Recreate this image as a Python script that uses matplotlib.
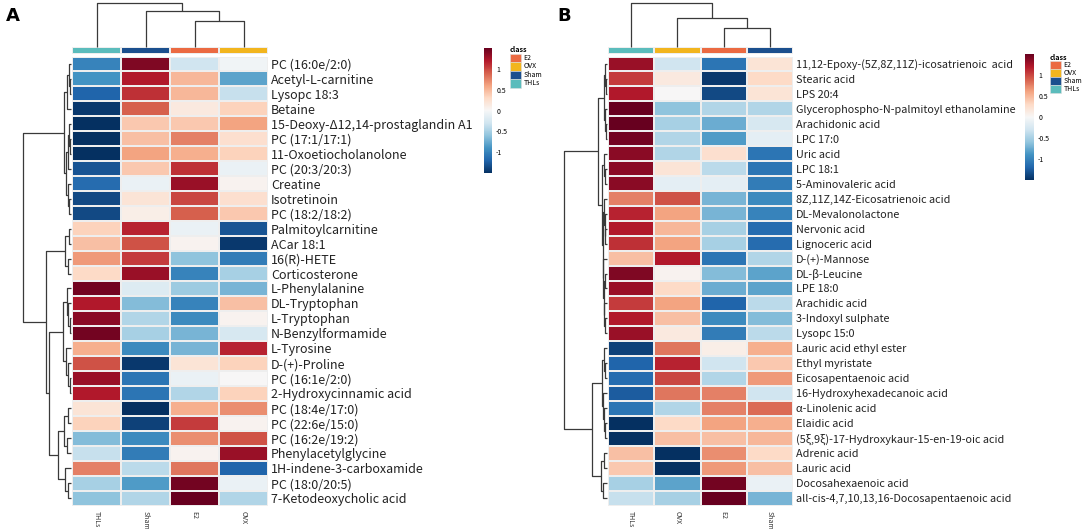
import numpy as np
import matplotlib
matplotlib.use('Agg')
import matplotlib.pyplot as plt
from matplotlib.patches import Rectangle

plt.rcParams['font.family'] = ['Noto Sans CJK SC', 'DejaVu Sans']

W, H = 1084, 529

classes = ['E2', 'OVX', 'Sham', 'THLs']
class_colors = ['#EB6A42', '#F2B51E', '#1B4F8E', '#5BBCBC']

# ---- panel A data ----
a_cols = ['THLs', 'Sham', 'E2', 'OVX']
a_rows = ['PC (16:0e/2:0)', 'Acetyl-L-carnitine', 'Lysopc 18:3', 'Betaine',
          '15-Deoxy-\u039412,14-prostaglandin A1', 'PC (17:1/17:1)',
          '11-Oxoetiocholanolone', 'PC (20:3/20:3)', 'Creatine', 'Isotretinoin',
          'PC (18:2/18:2)', 'Palmitoylcarnitine', 'ACar 18:1', '16(R)-HETE',
          'Corticosterone', 'L-Phenylalanine', 'DL-Tryptophan', 'L-Tryptophan',
          'N-Benzylformamide', 'L-Tyrosine', 'D-(+)-Proline', 'PC (16:1e/2:0)',
          '2-Hydroxycinnamic acid', 'PC (18:4e/17:0)', 'PC (22:6e/15:0)',
          'PC (16:2e/19:2)', 'Phenylacetylglycine', '1H-indene-3-carboxamide',
          'PC (18:0/20:5)', '7-Ketodeoxycholic acid']
a_vals = np.array([
    [-1.00, 1.40, -0.30, -0.05],
    [-0.90, 1.20, 0.50, -0.80],
    [-1.20, 1.10, 0.50, -0.35],
    [-1.45, 0.90, 0.15, 0.35],
    [-1.50, 0.40, 0.40, 0.60],
    [-1.50, 0.45, 0.75, 0.25],
    [-1.50, 0.60, 0.55, 0.35],
    [-1.30, 0.40, 1.10, -0.10],
    [-1.15, -0.10, 1.30, 0.05],
    [-1.35, 0.20, 1.00, 0.25],
    [-1.35, 0.10, 0.90, 0.40],
    [0.35, 1.15, -0.10, -1.30],
    [0.45, 0.95, 0.05, -1.45],
    [0.65, 1.05, -0.60, -1.05],
    [0.30, 1.30, -1.00, -0.50],
    [1.45, -0.20, -0.55, -0.70],
    [1.20, -0.65, -1.00, 0.45],
    [1.35, -0.45, -0.95, 0.05],
    [1.45, -0.50, -0.70, -0.25],
    [0.55, -0.95, -0.70, 1.15],
    [0.95, -1.45, 0.20, 0.35],
    [1.30, -1.10, -0.10, 0.00],
    [1.20, -1.10, -0.45, 0.35],
    [0.20, -1.50, 0.55, 0.70],
    [0.35, -1.40, 1.05, 0.05],
    [-0.65, -0.95, 0.70, 0.95],
    [-0.35, -1.05, 0.05, 1.30],
    [0.75, -0.40, 0.80, -1.20],
    [-0.50, -0.85, 1.45, -0.10],
    [-0.60, -0.45, 1.50, -0.45],
])

# ---- panel B data ----
b_cols = ['THLs', 'OVX', 'E2', 'Sham']
b_rows = ['11,12-Epoxy-(5Z,8Z,11Z)-icosatrienoic  acid', 'Stearic acid', 'LPS 20:4',
          'Glycerophospho-N-palmitoyl ethanolamine', 'Arachidonic acid', 'LPC 17:0',
          'Uric acid', 'LPC 18:1', '5-Aminovaleric acid', '8Z,11Z,14Z-Eicosatrienoic acid',
          'DL-Mevalonolactone', 'Nervonic acid', 'Lignoceric acid', 'D-(+)-Mannose',
          'DL-\u03b2-Leucine', 'LPE 18:0', 'Arachidic acid', '3-Indoxyl sulphate',
          'Lysopc 15:0', 'Lauric acid ethyl ester', 'Ethyl myristate',
          'Eicosapentaenoic acid', '16-Hydroxyhexadecanoic acid', '\u03b1-Linolenic acid',
          'Elaidic acid', '(5\u03be,9\u03be)-17-Hydroxykaur-15-en-19-oic acid', 'Adrenic acid',
          'Lauric acid', 'Docosahexaenoic acid', 'all-cis-4,7,10,13,16-Docosapentaenoic acid']
b_vals = np.array([
    [1.30, -0.30, -1.10, 0.20],
    [1.05, 0.15, -1.45, 0.30],
    [1.20, 0.00, -1.35, 0.20],
    [1.50, -0.60, -0.45, -0.45],
    [1.50, -0.50, -0.75, -0.25],
    [1.45, -0.45, -0.85, -0.15],
    [1.35, -0.45, 0.25, -1.10],
    [1.35, 0.20, -0.40, -1.10],
    [1.35, -0.15, -0.15, -1.05],
    [0.75, 0.95, -0.70, -0.95],
    [1.15, 0.60, -0.70, -1.00],
    [1.20, 0.50, -0.50, -1.15],
    [1.10, 0.60, -0.50, -1.15],
    [0.45, 1.20, -1.10, -0.45],
    [1.40, 0.05, -0.65, -0.80],
    [1.30, 0.30, -0.75, -0.80],
    [1.05, 0.60, -1.20, -0.40],
    [1.20, 0.45, -0.95, -0.65],
    [1.30, 0.15, -1.05, -0.40],
    [-1.40, 0.80, 0.10, 0.55],
    [-1.20, 1.15, -0.30, 0.40],
    [-1.15, 1.00, -0.45, 0.65],
    [-1.25, 0.80, 0.75, -0.30],
    [-1.10, -0.45, 0.75, 0.85],
    [-1.50, 0.30, 0.60, 0.55],
    [-1.50, 0.45, 0.45, 0.50],
    [0.45, -1.50, 0.70, 0.30],
    [0.40, -1.50, 0.65, 0.45],
    [-0.50, -0.80, 1.45, -0.10],
    [-0.35, -0.50, 1.50, -0.70],
])

# cluster trees: (height, left, right), leaves are row/column indices
a_row_tree = (48,
              (7, (4.5, (2.5, 0, (1.5, 1, 2)), 3),
                  (5.5, (3, (2, 4, (1, 5, 6)), 7), (3.5, 8, (2, 9, 10)))),
              (25, (6, (2, 11, 12), (3, 13, 14)),
                   (22, (8, (4, 15, (3, 16, (1.5, 17, 18))),
                            (5, 19, (3.5, 20, (1.5, 21, 22)))),
                        (13, (7, (3, 23, 24), (4, 25, 26)),
                             (6, 27, (3, 28, 29))))))
a_col_tree = (44, 0, (36, 1, (26, 2, 3)))

b_row_tree = (43,
              (9, (3, (1.5, 0, (1, 1, 2)), (1.5, 3, (1, 4, 5))),
                  (5, (2.5, 6, (1.5, 7, 8)),
                      (4, (3, 9, (2, 10, (1.5, 11, 12))),
                          (3.5, 13, (3, (2, 14, 15), (2.5, 16, (1.5, 17, 18))))))),
              (15, (5, (3, 19, (2, 20, 21)), (4, 22, (3, 23, (2, 24, 25)))),
                   (6, (2.5, 26, 27), (3.5, 28, 29))))
b_col_tree = (44, 0, (29, 1, (19, 2, 3)))

fig = plt.figure(figsize=(W / 100, H / 100), dpi=100)


def ax_px(x0, y0, x1, y1):
    return fig.add_axes([x0 / W, 1 - y1 / H, (x1 - x0) / W, (y1 - y0) / H])


def draw_tree(ax, node, orient):
    if isinstance(node, int):
        return node + 0.5, 0.0
    h, left, right = node
    p1, h1 = draw_tree(ax, left, orient)
    p2, h2 = draw_tree(ax, right, orient)
    pos = [p1, p1, p2, p2]
    hts = [h1, h, h, h2]
    if orient == 'row':
        ax.plot(hts, pos, color='#3a3a3a', lw=0.9, clip_on=False, solid_capstyle='butt')
    else:
        ax.plot(pos, hts, color='#3a3a3a', lw=0.9, clip_on=False, solid_capstyle='butt')
    return (p1 + p2) / 2, h


def panel(cols, rows, vals, row_tree, col_tree, hx0, hx1, dx0, cb, leg, letter, fs):
    top, bot = 56.5, 505.5
    n = len(rows)
    # heatmap
    ax = ax_px(hx0, top, hx1, bot)
    mesh = ax.pcolormesh(vals, cmap='RdBu_r', vmin=-1.5, vmax=1.5,
                         edgecolors='#eeeeee', linewidth=0.35)
    ax.set_xlim(0, len(cols))
    ax.set_ylim(n, 0)
    ax.yaxis.tick_right()
    ax.set_yticks(np.arange(n) + 0.5)
    ax.set_yticklabels(rows, fontsize=fs, color='#222222')
    ax.set_xticks(np.arange(len(cols)) + 0.5)
    ax.set_xticklabels(cols, rotation=-90, fontsize=5, color='#333333')
    ax.tick_params(length=0, pad=2)
    ax.tick_params(axis='x', pad=4)
    for s in ax.spines.values():
        s.set_visible(False)

    # class bar
    cax = ax_px(hx0, 47, hx1, 54)
    idx = np.array([[classes.index(c) for c in cols]])
    cax.pcolormesh(idx, cmap=matplotlib.colors.ListedColormap(class_colors),
                   vmin=-0.5, vmax=3.5, edgecolors='#eeeeee', linewidth=0.35)
    cax.set_axis_off()

    # column dendrogram
    dax = ax_px(hx0, 3, hx1, 47)
    draw_tree(dax, col_tree, 'col')
    dax.set_xlim(0, len(cols))
    dax.set_ylim(0, 44)
    dax.set_axis_off()

    # row dendrogram
    rax = ax_px(dx0, top, hx0 - 1, bot)
    draw_tree(rax, row_tree, 'row')
    rax.set_xlim(hx0 - 1 - dx0, 0)
    rax.set_ylim(n, 0)
    rax.set_axis_off()

    # colorbar
    bx = ax_px(*cb)
    c = fig.colorbar(mesh, cax=bx, ticks=[-1, -0.5, 0, 0.5, 1])
    c.set_ticklabels(['-1', '-0.5', '0', '0.5', '1'])
    c.outline.set_visible(False)
    bx.tick_params(length=0, labelsize=5, pad=3)

    # class legend
    lx, ly, bw, bh = leg
    over.text(lx, ly, 'class', fontsize=5.2, fontweight='bold', va='center', ha='left')
    for i, (name, col) in enumerate(zip(classes, class_colors)):
        y0 = ly + 3.5 + i * bh
        over.add_patch(Rectangle((lx, y0), bw, bh, facecolor=col, edgecolor='#dddddd', lw=0.4))
        over.text(lx + bw + 2.5, y0 + bh / 2, name, fontsize=5, va='center', ha='left')

    over.text(letter[1], letter[2], letter[0], fontsize=13, fontweight='bold',
              va='top', ha='left', family='DejaVu Sans')


over = fig.add_axes([0, 0, 1, 1], zorder=5)
over.set_xlim(0, W)
over.set_ylim(H, 0)
over.set_axis_off()

panel(a_cols, a_rows, a_vals, a_row_tree, a_col_tree, 72, 268, 22,
      (484, 48, 492, 173), (510, 50, 11, 8.5), ('A', 6, 7), 9.0)
panel(b_cols, b_rows, b_vals, b_row_tree, b_col_tree, 608, 793, 564,
      (1025, 54, 1034, 180), (1050, 57.5, 11, 8), ('B', 557, 7), 7.8)

fig.savefig('out.png', dpi=100)
